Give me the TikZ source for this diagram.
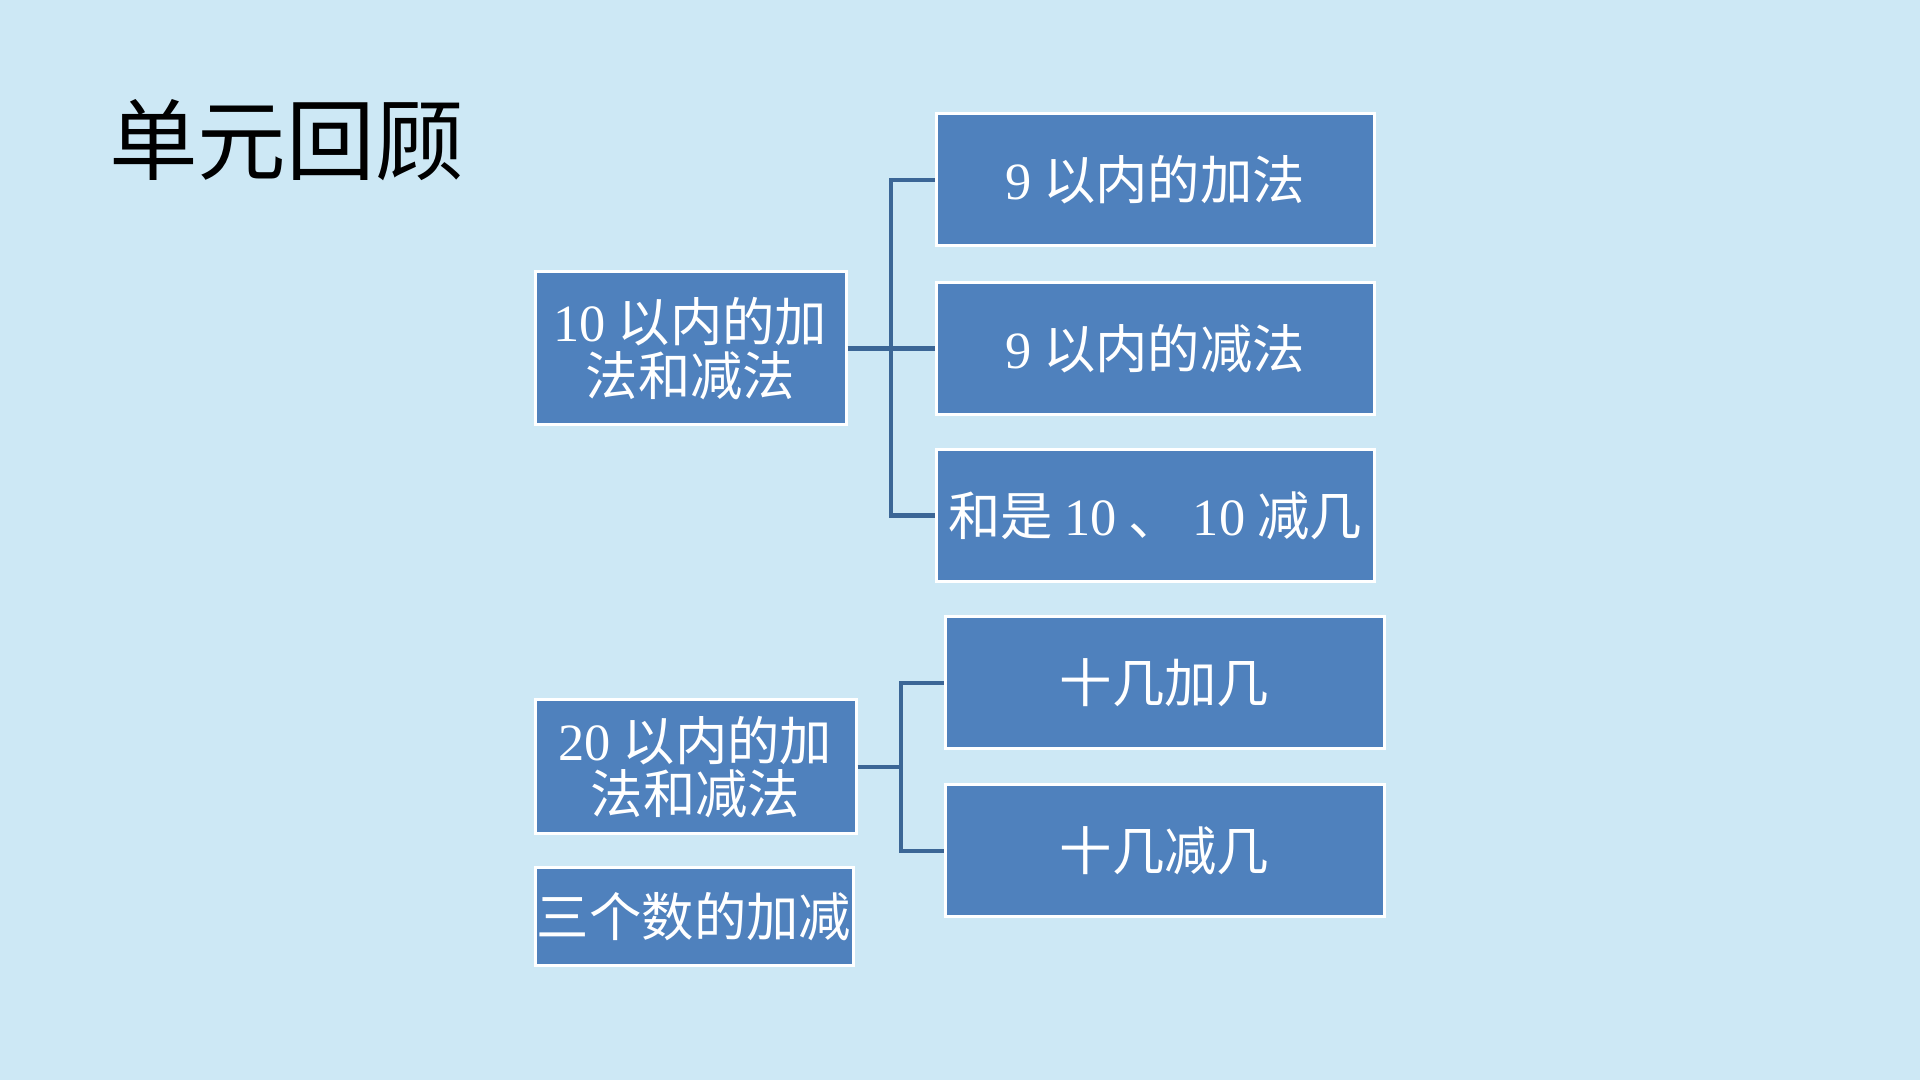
\documentclass[tikz,border=0pt]{standalone}
\usepackage{fontspec}
\setmainfont{Noto Sans CJK SC}
\newfontfamily\numfont{Liberation Serif}
\definecolor{REVbg}{HTML}{CDE8F5}
\definecolor{REVblue}{HTML}{4F81BD}
\definecolor{REVline}{HTML}{3B6696}
\usetikzlibrary{positioning}

\begin{document}
\begin{tikzpicture}[
      topic/.style={draw=white, line width=0.3mm, fill=REVblue, text=white,
         inner sep=0pt, align=center, font=\fontsize{14.9}{15.2}\selectfont},
      link/.style={REVline, line width=0.45mm}
   ]
            % Background
            \fill[REVbg] (0,0) rectangle (19.2,10.8);
            \useasboundingbox (0,0) rectangle (19.2,10.8);
            % Title
            \node (title) at (2.865,9.40) {\fontsize{25.2}{25.2}\selectfont 单元回顾};
            % 10 以内
            \node[topic, minimum width=3.11cm, minimum height=1.53cm] (ten) at (6.905,7.315)
               {{\numfont 10} 以内的加\\法和减法};
            \node[topic, minimum width=4.38cm, minimum height=1.32cm] (addnine) at (11.55,9.0)
               {{\numfont 9} 以内的加法};
            \node[topic, minimum width=4.38cm, minimum height=1.32cm] (subnine) at (11.55,7.315)
               {{\numfont 9} 以内的减法};
            \node[topic, minimum width=4.38cm, minimum height=1.32cm] (sumten) at (11.55,5.645)
               {和是 {\numfont 10} 、 {\numfont 10} 减几};
            % 20 以内
            \node[topic, minimum width=3.21cm, minimum height=1.34cm] (twenty) at (6.955,3.13)
               {{\numfont 20} 以内的加\\法和减法};
            \node[topic, minimum width=4.39cm, minimum height=1.32cm] (teenadd) at (11.645,3.97)
               {十几加几};
            \node[topic, minimum width=4.39cm, minimum height=1.32cm] (teensub) at (11.645,2.29)
               {十几减几};
            \node[topic, minimum width=3.18cm, minimum height=0.98cm] (three) at (6.94,1.63)
               {三个数的加减};
            % Connectors
            \coordinate (tenjoin) at (8.91,7.315);
            \coordinate (twentyjoin) at (9.01,3.13);
            \draw[link] (ten.east) -- (tenjoin) |- (addnine.west);
            \draw[link] (tenjoin) -- (subnine.west);
            \draw[link] (tenjoin) |- (sumten.west);
            \draw[link] (twenty.east) -- (twentyjoin) |- (teenadd.west);
            \draw[link] (twentyjoin) |- (teensub.west);
         \end{tikzpicture}
\end{document}
